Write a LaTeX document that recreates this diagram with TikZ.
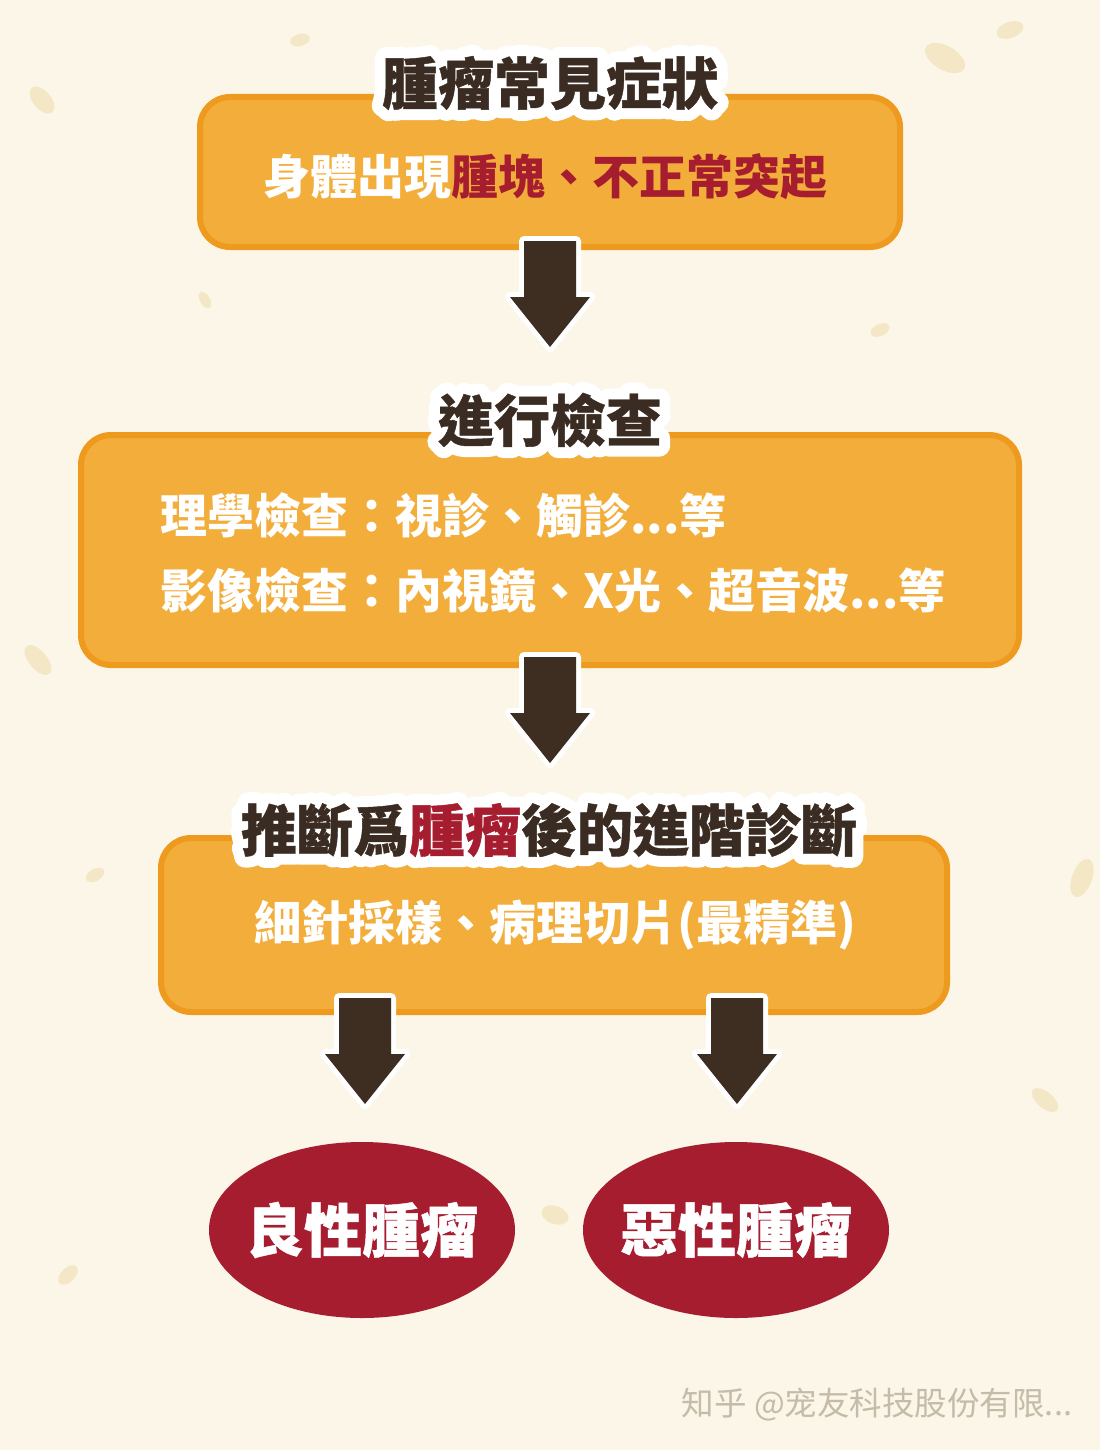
\documentclass[tikz,border=0pt]{standalone}
\usepackage{fontspec}
\usetikzlibrary{shapes.geometric,calc}
\newfontfamily\tcfont{Noto Sans CJK TC}
\newfontfamily\tcheavy{Noto Sans CJK TC}[BoldFeatures={FakeBold=0.8}]
\newfontfamily\tchalo{Noto Sans CJK TC}[BoldFeatures={FakeBold=40}]
\newfontfamily\scfont{Noto Sans CJK SC}
\definecolor{bgcream}{HTML}{FBF6E7}
\definecolor{spot}{HTML}{F3E7C6}
\definecolor{orangefill}{HTML}{F3AD3B}
\definecolor{orangeline}{HTML}{EE9A1E}
\definecolor{titlebrown}{HTML}{3A2C22}
\definecolor{crim}{HTML}{A51D2F}
\definecolor{arrowbrown}{HTML}{3E2E22}
\definecolor{wmgrey}{HTML}{C4BBA9}
\newif\ifhalo
\newcommand\hilite[1]{\ifhalo#1\else\textcolor{crim}{#1}\fi}
\newcommand\halonode[3]{%
  \node[titletext, font=\tchalo\bfseries\fontsize{56}{60}\selectfont, text=white] at (#2) {\special{pdf:code 1 j 1 J}\halotrue #3};
  \node[titletext] (#1) at (#2) {#3};
}
\tikzset{
  box/.style={draw=orangeline, line width=6pt, fill=orangefill, rounded corners=30pt, inner sep=0pt},
  titletext/.style={font=\tcheavy\bfseries\fontsize{56}{60}\selectfont, text=titlebrown, inner sep=0pt},
  contenttext/.style={font=\tcfont\bfseries\fontsize{47}{52}\selectfont, text=white, inner sep=0pt},
  oval/.style={ellipse, fill=crim, minimum width=306pt, minimum height=176pt, inner sep=0pt},
  ovaltext/.style={font=\tcheavy\bfseries\fontsize{58}{62}\selectfont, text=white, inner sep=0pt},
  leaf/.style={fill=spot},
  barrow/.pic={
    \draw[white, line width=10pt, line join=round] (-26,0) -- (-26,56) -- (-40,56) -- (0,106) -- (40,56) -- (26,56) -- (26,0) -- cycle;
    \fill[arrowbrown] (-26,0) -- (-26,56) -- (-40,56) -- (0,106) -- (40,56) -- (26,56) -- (26,0) -- cycle;
  }
}
\begin{document}
\begin{tikzpicture}[x=1pt,y=-1pt]
\useasboundingbox (0,0) rectangle (1100,1450);
\fill[bgcream] (0,0) rectangle (1100,1450);
% background spots
\fill[leaf, rotate around={40:(42,100)}] (42,100) ellipse (9 and 16);
\fill[leaf, rotate around={-30:(945,58)}] (945,58) ellipse (22 and 12);
\fill[leaf, rotate around={20:(1010,30)}] (1010,30) ellipse (14 and 8);
\fill[leaf, rotate around={60:(965,462)}] (965,462) ellipse (16 and 10);
\fill[leaf, rotate around={-50:(38,660)}] (38,660) ellipse (18 and 9);
\fill[leaf, rotate around={70:(1082,878)}] (1082,878) ellipse (20 and 10);
\fill[leaf, rotate around={10:(455,1180)}] (455,1180) ellipse (9 and 6);
\fill[leaf, rotate around={-20:(555,1215)}] (555,1215) ellipse (14 and 9);
\fill[leaf, rotate around={45:(68,1275)}] (68,1275) ellipse (12 and 7);
\fill[leaf, rotate around={30:(95,875)}] (95,875) ellipse (10 and 6);
\fill[leaf, rotate around={-40:(1045,1100)}] (1045,1100) ellipse (16 and 8);
\fill[leaf, rotate around={15:(300,40)}] (300,40) ellipse (10 and 6);
\fill[leaf, rotate around={-60:(205,300)}] (205,300) ellipse (9 and 5);
\fill[leaf, rotate around={25:(880,330)}] (880,330) ellipse (10 and 6);
% boxes
\node[box, minimum width=700pt, minimum height=150pt] (b1) at (550,172) {};
\node[box, minimum width=938pt, minimum height=230pt] (b2) at (550,550) {};
\node[box, minimum width=786pt, minimum height=174pt] (b3) at (554,925) {};
% arrows
\pic at ($(b1.south)+(0,-9)$) {barrow};
\pic at ($(b2.south)+(0,-11)$) {barrow};
% ellipses
\node[oval] (e1) at (362,1230) {};
\node[oval] (e2) at (736,1230) {};
\node[ovaltext] (e1t) at (e1.center) {良性腫瘤};
\node[ovaltext] (e2t) at (e2.center) {惡性腫瘤};
\pic at ($(e1.north |- b3.south)+(3,-17)$) {barrow};
\pic at ($(e2.north |- b3.south)+(1,-17)$) {barrow};
% titles
\halonode{t1}{550,83}{腫瘤常見症狀}
\halonode{t2}{550,420}{進行檢查}
\halonode{t3}{549,830}{推斷爲\hilite{腫瘤}後的進階診斷}
% contents
\node[contenttext] (c1) at (545,177) {身體出現\textcolor{crim}{腫塊、不正常突起}};
\node[contenttext, anchor=west] (l1) at (160,515) {理學檢查：視診、觸診...等};
\node[contenttext, anchor=west] (l2) at (160,590) {影像檢查：內視鏡、X光、超音波...等};
\node[contenttext] (c3) at (555,925) {細針採樣、病理切片(最精準)};
% watermark
\node[font=\scfont\fontsize{32.5}{35}\selectfont, text=wmgrey, inner sep=0pt] (wm) at (877,1405) {知乎 @宠友科技股份有限...};
\end{tikzpicture}
\end{document}
